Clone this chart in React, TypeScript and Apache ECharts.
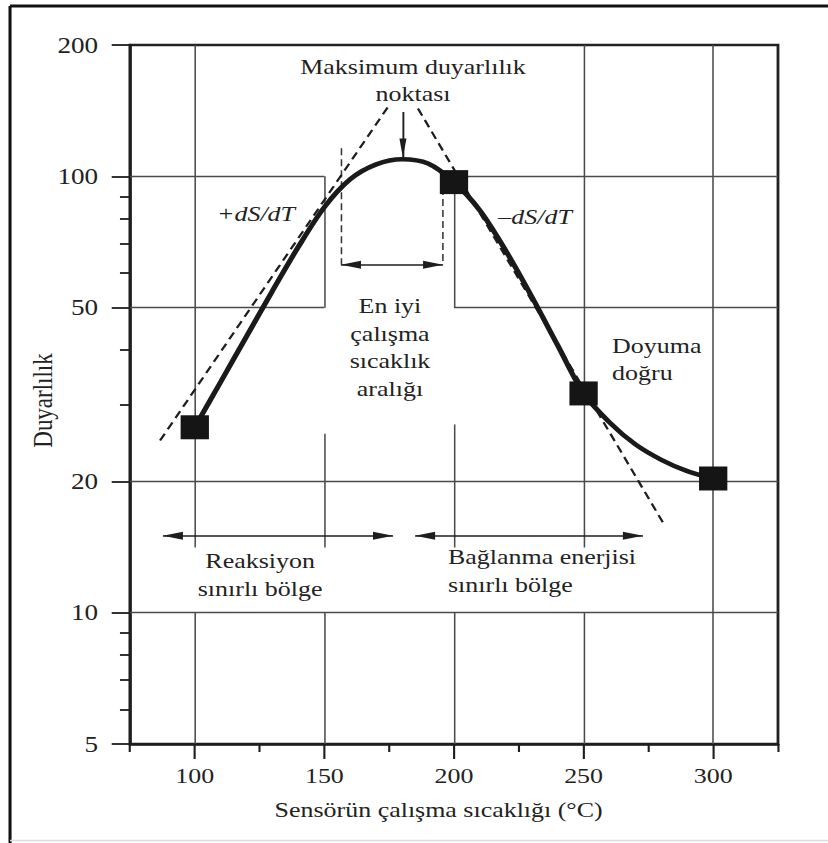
import React, { useEffect, useRef } from "react";
import * as echarts from "echarts";

// ---- axis ticks ----
const xTickLabels = [100, 150, 200, 250, 300];
const xMinorTicks = [75, 125, 175, 225, 275, 325];
const yTickLabels = [5, 10, 20, 50, 100, 200];
const yMinorTicks = [6, 7, 8, 9, 30, 40, 60, 70, 80, 90];

// ---- sensitivity curve ----
const curveTemps = [100, 110, 120, 130, 140, 150, 160, 170, 180, 190, 200, 210, 220, 230, 240, 250, 260, 270, 280, 290, 300];
const curveSens = [26.6, 33.8, 43.0, 54.7, 69, 85, 98.5, 106.5, 109.5, 107, 97, 83.5, 67.5, 53, 41, 31.8, 27.3, 24.3, 22.4, 21.1, 20.3];

// ---- measured points (squares) ----
const markerTemps = [100, 200, 250, 300];
const markerSens = [26.6, 97, 31.8, 20.3];

// ---- tangent lines (+dS/dT, -dS/dT) ----
const tangentUpTemps = [86.6, 174.5];
const tangentUpSens = [24.8, 144.2];
const tangentDownTemps = [186.1, 281.4];
const tangentDownSens = [143.1, 15.8];

// ---- grid segments: horizontal [y, x1, x2], vertical [x, y1, y2] ----
const hGrid = [
  [100, 75, 150], [100, 200, 325],
  [50, 75, 150], [50, 200, 325],
  [20, 75, 325], [10, 75, 325],
];
const vGrid = [
  [100, 14.1, 200], [100, 5, 10],
  [150, 50, 100], [150, 14.1, 25.7], [150, 5, 10],
  [200, 50, 100], [200, 14.1, 27], [200, 5, 10],
  [250, 14.1, 200], [250, 5, 10],
  [300, 5, 200],
];

// ---- optimum range markers ----
const optRangeTemps = [156.4, 195.8];
const optRangeTop = [116, 94];
const optRangeSens = 62.7;

// ---- region arrows (tip to tip) ----
const regionArrowSens = 15;
const reactionArrowTemps = [87.7, 176.5];
const bindingArrowTemps = [185, 272.9];

// ---- max point arrow ----
const maxArrowTemp = 180.3;
const maxArrowSens = [140.4, 110.5];

// ---- annotations (anchor in data units) ----
const annotations = [
  { text: "Maksimum duyarlılık\nnoktası", t: 184.2, s: 166, align: "center", lh: 27, italic: false },
  { text: "+dS/dT", t: 123.6, s: 82, align: "center", lh: 24, italic: true },
  { text: "–dS/dT", t: 231.3, s: 81, align: "center", lh: 24, italic: true },
  { text: "En iyi\nçalışma\nsıcaklık\naralığı", t: 175.3, s: 40.6, align: "center", lh: 27.5, italic: false },
  { text: "Doyuma\ndoğru", t: 261, s: 38.1, align: "left", lh: 27, italic: false },
  { text: "Reaksiyon\nsınırlı bölge", t: 125.2, s: 12.25, align: "center", lh: 28, italic: false },
  { text: "Bağlanma enerjisi\nsınırlı bölge", t: 197.7, s: 12.45, align: "left", lh: 28, italic: false },
];

const SCALE_X = 828 / 702;

export default function App() {
  const ref = useRef<HTMLDivElement>(null);

  useEffect(() => {
    const el = ref.current!;
    const chart = echarts.init(el, null, { renderer: "svg" });
    const font = "Liberation Serif";
    const ink = "#1e1e1e";
    const gridColor = "#4a4a4a";

    const gridSegs = [
      ...hGrid.map(([y, x1, x2]) => ({ coords: [[x1, y], [x2, y]] })),
      ...vGrid.map(([x, y1, y2]) => ({ coords: [[x, y1], [x, y2]] })),
    ];

    const shafts = [
      { coords: [[optRangeTemps[0], optRangeSens], [optRangeTemps[1], optRangeSens]] },
      { coords: [[reactionArrowTemps[0], regionArrowSens], [reactionArrowTemps[1], regionArrowSens]] },
      { coords: [[bindingArrowTemps[0], regionArrowSens], [bindingArrowTemps[1], regionArrowSens]] },
      { coords: [[maxArrowTemp, maxArrowSens[0]], [maxArrowTemp, maxArrowSens[1]]] },
    ];

    const hl = 8.5; // half head length (px, inner)
    const leftHead = (t: number, s: number) => ({ value: [t, s], symbolRotate: 90, symbolOffset: [hl, 0] });
    const rightHead = (t: number, s: number) => ({ value: [t, s], symbolRotate: -90, symbolOffset: [-hl, 0] });
    const heads = [
      leftHead(optRangeTemps[0], optRangeSens), rightHead(optRangeTemps[1], optRangeSens),
      leftHead(reactionArrowTemps[0], regionArrowSens), rightHead(reactionArrowTemps[1], regionArrowSens),
      leftHead(bindingArrowTemps[0], regionArrowSens), rightHead(bindingArrowTemps[1], regionArrowSens),
      { value: [maxArrowTemp, maxArrowSens[1]], symbolRotate: 180, symbolOffset: [0, -9.5], symbolSize: [6, 19] },
    ];

    const minorY = {
      type: "log", logBase: 10, min: 5, max: 200, position: "left",
      axisLine: { show: false },
      axisTick: { show: true, customValues: yMinorTicks, length: 8.5, lineStyle: { color: ink, width: 1.8 } },
      axisLabel: { show: false },
      splitLine: { show: false },
    };

    chart.setOption({
      animation: false,
      backgroundColor: "#ffffff",
      textStyle: { fontFamily: font },
      grid: {
        left: 110.2, right: 42.4, top: 45, bottom: 99,
        show: true, borderColor: "#222", borderWidth: 2.4, backgroundColor: "transparent",
      },
      xAxis: [
        {
          type: "value", min: 75, max: 325, position: "bottom",
          axisLine: { show: true, onZero: false, lineStyle: { color: ink, width: 2.5 } },
          axisTick: { show: true, customValues: xTickLabels, length: 15, lineStyle: { color: ink, width: 1.8 } },
          axisLabel: { customValues: xTickLabels, fontFamily: font, fontSize: 22, color: "#222", margin: 21 },
          splitLine: { show: false },
          name: "Sensörün çalışma sıcaklığı (°C)",
          nameLocation: "middle",
          nameGap: 55,
          nameMoveOverlap: false,
          nameTextStyle: { fontFamily: font, fontSize: 22, color: "#222", padding: [0, 26, 0, 0] },
        },
        {
          type: "value", min: 75, max: 325, position: "bottom",
          axisLine: { show: false, onZero: false },
          axisTick: { show: true, customValues: xMinorTicks, length: 8, lineStyle: { color: ink, width: 1.8 } },
          axisLabel: { show: false },
          splitLine: { show: false },
        },
      ],
      yAxis: [
        {
          type: "log", logBase: 10, min: 5, max: 200, position: "left",
          axisLine: { show: true, onZero: false, lineStyle: { color: ink, width: 2.5 } },
          axisTick: { show: true, customValues: yTickLabels, length: 15.5, lineStyle: { color: ink, width: 1.8 } },
          axisLabel: { customValues: yTickLabels, fontFamily: font, fontSize: 23, color: "#222", margin: 27 },
          splitLine: { show: false },
          name: "Duyarlılık",
          nameLocation: "middle",
          nameGap: 62,
          nameMoveOverlap: false,
          nameTextStyle: { fontFamily: font, fontSize: 23, color: "#222", padding: [0, 12, 0, 0] },
        },
        minorY,
      ],
      series: [
        {
          type: "lines", coordinateSystem: "cartesian2d", silent: true, z: 1,
          symbol: "none",
          lineStyle: { color: gridColor, width: 1.3, opacity: 1 },
          data: gridSegs,
        },
        {
          type: "line", silent: true, z: 2, symbol: "none",
          lineStyle: { color: ink, width: 2, type: [8, 5] },
          data: tangentUpTemps.map((t, i) => [t, tangentUpSens[i]]),
        },
        {
          type: "line", silent: true, z: 2, symbol: "none",
          lineStyle: { color: ink, width: 2, type: [8, 5] },
          data: tangentDownTemps.map((t, i) => [t, tangentDownSens[i]]),
        },
        {
          type: "lines", coordinateSystem: "cartesian2d", silent: true, z: 2,
          symbol: "none",
          lineStyle: { color: "#333", width: 1.3, type: [7, 4], opacity: 1 },
          data: optRangeTemps.map((t, i) => ({ coords: [[t, optRangeTop[i]], [t, optRangeSens]] })),
        },
        {
          type: "lines", coordinateSystem: "cartesian2d", silent: true, z: 2,
          symbol: "none",
          lineStyle: { color: ink, width: 1.6, opacity: 1 },
          data: shafts,
        },
        {
          type: "scatter", silent: true, z: 2, symbol: "triangle", symbolSize: [8, 17],
          itemStyle: { color: ink, opacity: 1 },
          data: heads,
        },
        {
          type: "line", silent: true, z: 3, symbol: "none", smooth: 0.3,
          lineStyle: { color: "#1a1a1a", width: 4.5 },
          data: curveTemps.map((t, i) => [t, curveSens[i]]),
        },
        {
          type: "scatter", silent: true, z: 4, symbol: "rect", symbolSize: 24,
          itemStyle: { color: "#151515", opacity: 1 },
          data: markerTemps.map((t, i) => [t, markerSens[i]]),
        },
      ],
    });

    const graphics: any[] = annotations.map((a) => {
      const p = chart.convertToPixel({ xAxisIndex: 0, yAxisIndex: 0 }, [a.t, a.s]) as number[];
      return {
        type: "text", x: p[0], y: p[1], silent: true, z: 10,
        style: {
          text: a.text, fill: "#222",
          font: `${a.italic ? "italic " : ""}22px "Liberation Serif", serif`,
          align: a.align, textAlign: a.align,
          verticalAlign: "middle", textVerticalAlign: "middle",
          lineHeight: a.lh,
        },
      };
    });
    // outer frame of the figure
    graphics.push(
      { type: "line", silent: true, shape: { x1: 8.5, y1: 6, x2: 702, y2: 6 }, style: { stroke: "#111", lineWidth: 3 } },
      { type: "line", silent: true, shape: { x1: 8.5, y1: 6, x2: 8.5, y2: 843 }, style: { stroke: "#111", lineWidth: 2.6 } },
      { type: "line", silent: true, shape: { x1: 8.5, y1: 840.5, x2: 702, y2: 840.5 }, style: { stroke: "#dddddd", lineWidth: 1.5 } },
    );
    chart.setOption({ graphic: graphics });

    return () => chart.dispose();
  }, []);

  return (
    <div
      ref={ref}
      style={{
        position: "fixed", left: 0, top: 0, width: 702, height: 843,
        transform: `scaleX(${SCALE_X})`, transformOrigin: "0 0", background: "#fff",
      }}
    />
  );
}
